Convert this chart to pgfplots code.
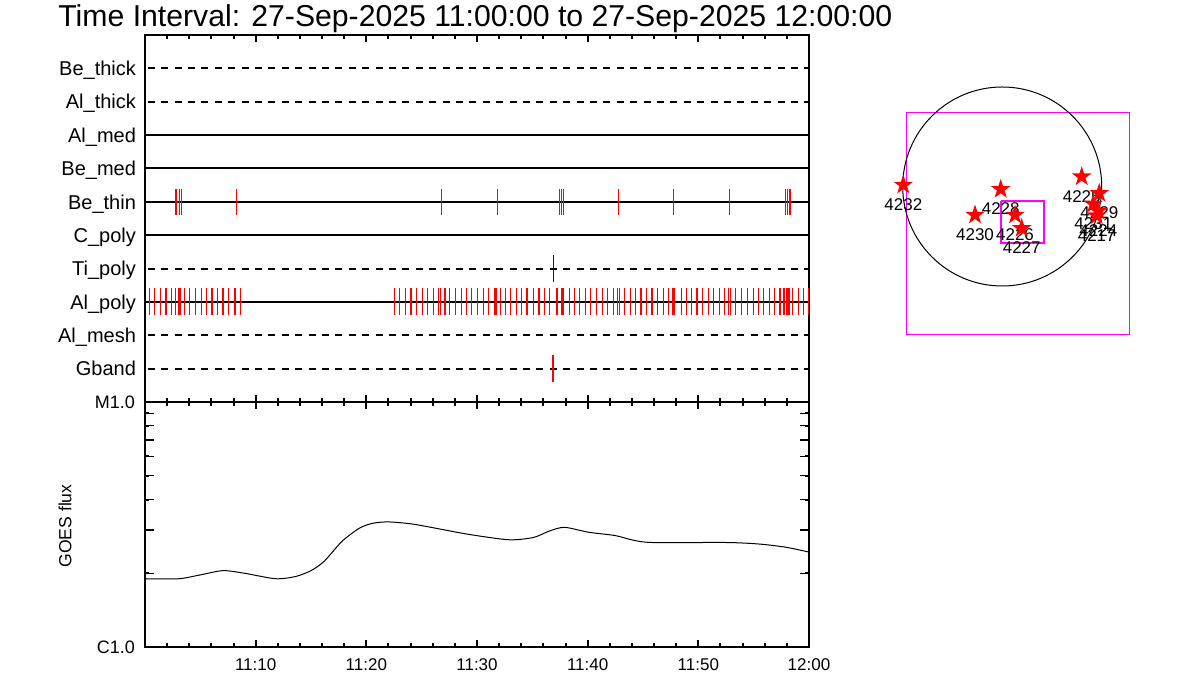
\documentclass[border=0pt]{standalone}
\usepackage{fontspec}
\setmainfont{Liberation Sans}
\usepackage{pgfplots}
\pgfplotsset{compat=1.18}
\definecolor{idlred}{RGB}{255,0,0}
\definecolor{idlmag}{RGB}{255,0,255}
\definecolor{idlblue}{RGB}{0,0,255}
\newcommand{\fs}[1]{\fontsize{#1}{#1}\selectfont}
\pgfdeclareplotmark{fstar}{%
  \pgfpathmoveto{\pgfpointpolar{90}{\pgfplotmarksize}}%
  \pgfpathlineto{\pgfpointpolar{126}{0.382\pgfplotmarksize}}%
  \pgfpathlineto{\pgfpointpolar{162}{\pgfplotmarksize}}%
  \pgfpathlineto{\pgfpointpolar{198}{0.382\pgfplotmarksize}}%
  \pgfpathlineto{\pgfpointpolar{234}{\pgfplotmarksize}}%
  \pgfpathlineto{\pgfpointpolar{270}{0.382\pgfplotmarksize}}%
  \pgfpathlineto{\pgfpointpolar{306}{\pgfplotmarksize}}%
  \pgfpathlineto{\pgfpointpolar{342}{0.382\pgfplotmarksize}}%
  \pgfpathlineto{\pgfpointpolar{18}{\pgfplotmarksize}}%
  \pgfpathlineto{\pgfpointpolar{54}{0.382\pgfplotmarksize}}%
  \pgfpathclose
  \pgfusepathqfill
}
\begin{document}
\begin{tikzpicture}
\useasboundingbox (0,0) rectangle (600pt,350pt);
% ---------------- top panel: filter rows ----------------
\begin{axis}[
  at={(72.5pt,149pt)}, anchor=south west,
  scale only axis, width=332pt, height=183.5pt,
  xmin=0, xmax=60, ymin=0, ymax=11,
  axis line style={line width=1pt},
  xtick={0,10,...,60}, minor x tick num=4, xticklabel=\empty,
  tick align=inside, major tick length=3.5pt, minor tick length=1.8pt,
  tick style={line width=1pt, black},
  ytick={1,...,10},
  yticklabels={Gband,Al\_mesh,Al\_poly,Ti\_poly,C\_poly,Be\_thin,Be\_med,Al\_med,Al\_thick,Be\_thick},
  ytick style={draw=none},
  yticklabel style={font=\fs{10}, anchor=base east, yshift=-3.6pt, xshift=-1pt},
  clip=false,
]
% row lines
\addplot[black, line width=1pt, dash pattern=on 3.5pt off 3.2pt] coordinates {(0.25,10) (60,10)};
\addplot[black, line width=1pt, dash pattern=on 3.5pt off 3.2pt] coordinates {(0.25,9) (60,9)};
\addplot[black, line width=1pt] coordinates {(0,8) (60,8)};
\addplot[black, line width=1pt] coordinates {(0,7) (60,7)};
\addplot[black, line width=1pt] coordinates {(0,6) (60,6)};
\addplot[black, line width=1pt] coordinates {(0,5) (60,5)};
\addplot[black, line width=1pt, dash pattern=on 3.5pt off 3.2pt] coordinates {(0.25,4) (60,4)};
\addplot[black, line width=1pt] coordinates {(0,3) (60,3)};
\addplot[black, line width=1pt, dash pattern=on 3.5pt off 3.2pt] coordinates {(0.25,2) (60,2)};
\addplot[black, line width=1pt, dash pattern=on 3.5pt off 3.2pt] coordinates {(0.25,1) (60,1)};
% Be_thin events
\addplot[only marks, mark=|, mark size=6.6pt, idlred, line width=0.55pt] coordinates {
(2.80,6) (3.10,6) (3.28,6) (8.25,6) (26.77,6) (31.83,6) (37.44,6) (37.62,6) (37.80,6)
(42.77,6) (47.74,6) (52.80,6) (57.86,6) (58.04,6) (58.28,6)};
% Ti_poly event
\addplot[only marks, mark=|, mark size=6.8pt, idlblue, line width=0.55pt] coordinates {(36.89,4)};
% Al_poly events
\addplot[only marks, mark=|, mark size=6.8pt, idlred, line width=0.55pt] coordinates {
(0.39,3) (0.84,3) (1.38,3) (1.90,3) (2.38,3) (2.74,3) (3.07,3) (3.19,3) (3.59,3) (4.00,3)
(4.55,3) (5.09,3) (5.58,3) (6.05,3) (6.57,3) (7.05,3) (7.53,3) (8.07,3) (8.20,3) (8.61,3)
(22.53,3) (22.98,3) (23.52,3) (24.04,3) (24.51,3) (25.06,3) (25.51,3) (26.05,3) (26.50,3) (26.68,3)
(27.11,3) (27.53,3) (28.08,3) (28.58,3) (29.07,3) (29.52,3) (30.06,3) (30.57,3) (31.06,3) (31.56,3)
(31.72,3) (32.11,3) (32.59,3) (33.05,3) (33.59,3) (34.00,3) (34.52,3) (35.09,3) (35.60,3) (36.08,3)
(36.53,3) (37.18,3) (37.30,3) (37.68,3) (37.80,3) (38.34,3) (38.79,3) (39.24,3) (39.79,3) (40.27,3)
(40.78,3) (41.30,3) (41.81,3) (42.32,3) (42.71,3) (42.89,3) (43.31,3) (43.85,3) (44.30,3) (44.82,3)
(45.30,3) (45.81,3) (46.33,3) (46.83,3) (47.29,3) (47.71,3) (47.83,3) (48.44,3) (48.89,3) (49.36,3)
(49.88,3) (50.36,3) (50.90,3) (51.39,3) (51.89,3) (52.35,3) (52.71,3) (52.89,3) (53.38,3) (53.92,3)
(54.42,3) (54.97,3) (55.42,3) (55.91,3) (56.41,3) (56.90,3) (57.38,3) (57.74,3) (58.01,3) (58.19,3)
(58.49,3) (59.03,3) (59.48,3) (59.95,3)};
% Gband event
\addplot[only marks, mark=|, mark size=6.8pt, idlred, line width=0.55pt] coordinates {(36.80,1) (36.89,1)};
\end{axis}
% ---------------- bottom panel: GOES flux ----------------
\begin{axis}[
  at={(72.5pt,26.5pt)}, anchor=south west,
  scale only axis, width=332pt, height=122.5pt,
  xmin=0, xmax=60, ymode=log, ymin=1e-6, ymax=1e-5,
  axis line style={line width=1pt},
  xtick={0,10,...,60}, minor x tick num=4,
  xticklabels={,11:10,11:20,11:30,11:40,11:50,12:00},
  xticklabel style={font=\fs{8.5}, yshift=-2.5pt},
  tick align=inside, major tick length=3.5pt, minor tick length=1.8pt,
  tick style={line width=1pt, black},
  ytick={1e-6,1e-5}, yticklabels={C1.0,M1.0},
  yticklabel style={font=\fs{9}, xshift=-1.5pt},
  minor ytick={},
  extra y ticks={2e-6,3e-6,4e-6,5e-6,6e-6,7e-6,8e-6,9e-6},
  extra y tick labels={},
  extra y tick style={major tick length=4.3pt, tick style={line width=0.7pt}},
]
\addplot[black, line width=0.5pt, smooth, tension=0.45] coordinates {
(0,1.90e-6) (3.06,1.90e-6) (5.0,1.97e-6) (7.05,2.05e-6) (9.0,2.00e-6) (11.8,1.90e-6)
(13.6,1.94e-6) (15.0,2.05e-6) (16.2,2.24e-6) (17.8,2.70e-6) (19.4,3.06e-6) (20.6,3.20e-6)
(22.0,3.24e-6) (24.1,3.18e-6) (26.5,3.04e-6) (29.3,2.88e-6) (32.9,2.74e-6) (35.1,2.80e-6)
(36.5,2.97e-6) (37.9,3.08e-6) (40.1,2.94e-6) (42.5,2.85e-6) (44.1,2.73e-6) (45.9,2.67e-6)
(52.6,2.67e-6) (55.6,2.63e-6) (58.0,2.55e-6) (60,2.44e-6)};
\end{axis}
% ---------------- right panel: map ----------------
\begin{axis}[
  at={(453pt,182.5pt)}, anchor=south west,
  scale only axis, width=111.5pt, height=111pt,
  xmin=-111.5, xmax=111.5, ymin=-111, ymax=111,
  axis line style={idlmag, line width=0.5pt},
  xtick=\empty, ytick=\empty, clip=false,
]
\draw[black, line width=0.5pt] (axis cs:-15.3,37.5) circle[radius=49.75pt];
\addplot[idlmag, line width=1.1pt] coordinates {(-16.8,23) (26.5,23) (26.5,-18.7) (-16.8,-18.7) (-16.8,23)};
\addplot[only marks, mark=fstar, mark size=5.2pt, idlred,
  nodes near coords, point meta=explicit symbolic,
  every node near coord/.append style={black, font=\fs{8.5}, anchor=center, yshift=-9.75pt}]
  table[meta=lab] {
x y lab
-114.2 39 4232
-16.8 34.7 4228
-42.5 9 4230
-2.5 9 4226
4.2 -4.3 4227
64.2 47.3 4225
81.8 30.7 4229
75.8 20 4231
80.8 13 4224
79.2 8.3 4217
};
\end{axis}
\node[anchor=base west, font=\fs{15.1}, inner sep=0pt] at (29pt,336.5pt)
  {Time Interval: 27-Sep-2025 11:00:00 to 27-Sep-2025 12:00:00};
\node[rotate=90, font=\fs{8.8}] at (32.5pt,87pt) {GOES flux};
\end{tikzpicture}
\end{document}
